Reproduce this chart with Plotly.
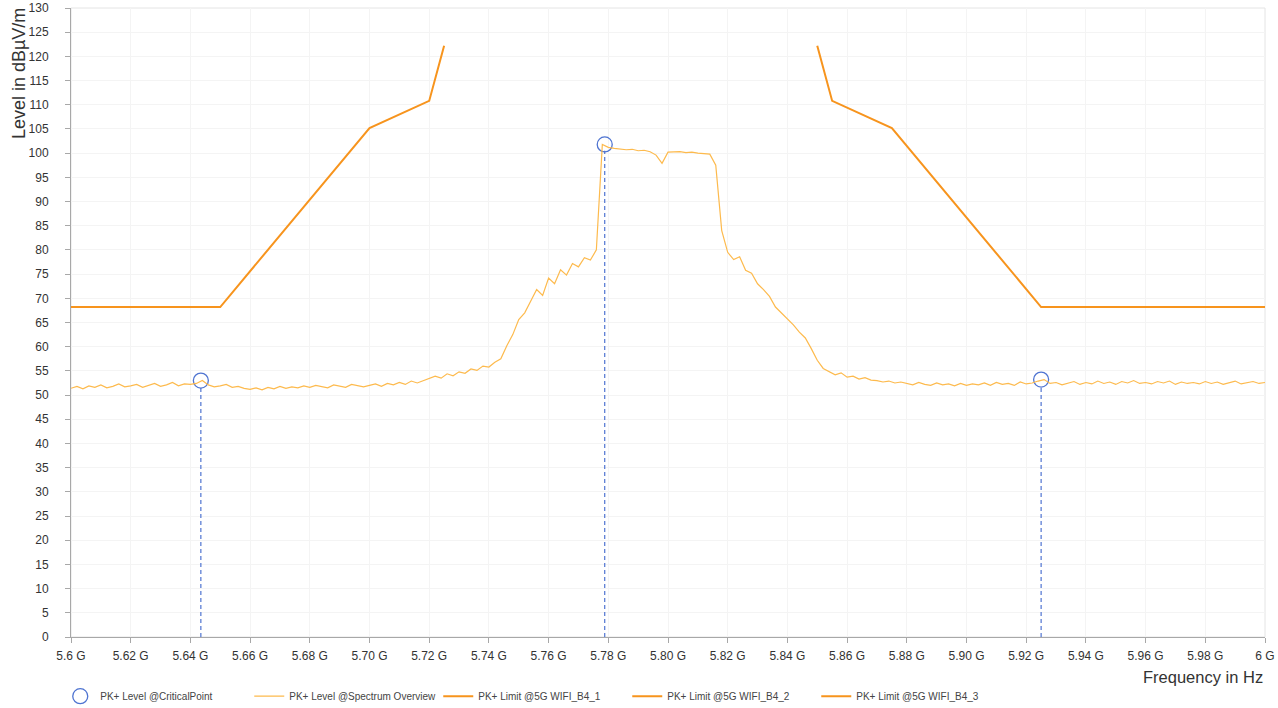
import plotly.graph_objects as go

# ---------------- data ----------------
f_start_ghz = 5.600
f_step_ghz = 0.002
spectrum_level = [
    51.4, 51.8, 51.3, 51.9, 51.6, 52.1, 51.5, 51.8, 52.3, 51.7,
    51.9, 52.2, 51.6, 52.0, 52.4, 51.8, 52.1, 52.6, 51.9, 52.3,
    52.2, 52.4, 53.0, 52.1, 51.7, 51.9, 52.2, 51.6, 51.8, 51.4,
    51.2, 51.5, 51.1, 51.6, 51.3, 51.8, 51.4, 51.7, 51.5, 51.9,
    51.6, 52.0, 51.7, 51.5, 52.1, 51.8, 51.6, 52.2, 51.9, 51.7,
    52.0, 52.3, 51.8, 52.4, 52.1, 52.6, 52.2, 52.9, 52.5, 53.0,
    53.4, 53.9, 53.5, 54.4, 54.0, 54.8, 54.5, 55.4, 55.1, 56.0,
    55.8, 56.8, 57.5, 60.2, 62.5, 65.6, 67.0, 69.4, 71.8, 70.6,
    74.2, 73.0, 75.9, 74.8, 77.2, 76.5, 78.4, 77.9, 80.0, 101.8,
    101.2, 101.0, 100.9, 100.7, 100.8, 100.5, 100.6, 100.3, 99.6, 97.9,
    100.2, 100.2, 100.3, 100.1, 100.2, 100.0, 99.9, 99.8, 97.5, 84.0,
    79.5, 78.0, 78.6, 75.8, 75.2, 73.0, 71.8, 70.4, 68.2, 67.0,
    65.9, 64.5, 63.0, 61.8, 59.6, 57.2, 55.5, 54.8, 54.2, 54.6,
    53.7, 53.9, 53.3, 53.6, 53.1, 53.0, 52.7, 52.9, 52.5, 52.7,
    52.4, 52.1, 52.6, 52.2, 52.0, 52.5, 52.1, 52.3, 51.9, 52.4,
    52.0, 52.3, 52.1, 52.5, 52.0, 52.6, 52.2, 52.4, 52.0, 52.7,
    52.3, 52.5, 52.9, 53.2, 52.4, 52.6, 52.1, 52.5, 52.8, 52.2,
    52.6, 52.3, 52.9, 52.4, 52.7, 52.2, 52.8, 52.5, 53.0, 52.4,
    52.6, 52.3, 52.8, 52.5, 52.9, 52.2, 52.7, 52.4, 52.6, 52.3,
    52.8, 52.4, 52.7, 52.2, 52.6, 52.9, 52.3, 52.5, 52.8, 52.4,
    52.6,
]
spectrum_freq = [round(f_start_ghz + f_step_ghz * i, 3) for i in range(len(spectrum_level))]

limit1_freq = [5.600, 5.650, 5.700, 5.720, 5.725]
limit1_level = [68.2, 68.2, 105.2, 110.8, 122.2]
limit2_freq = [None]
limit2_level = [None]
limit3_freq = [5.850, 5.855, 5.875, 5.925, 6.000]
limit3_level = [122.2, 110.8, 105.2, 68.2, 68.2]

critical_freq = [5.6435, 5.7788, 5.9250]
critical_level = [53.0, 101.8, 53.2]

x_tick_vals = [5.60, 5.62, 5.64, 5.66, 5.68, 5.70, 5.72, 5.74, 5.76, 5.78, 5.80,
               5.82, 5.84, 5.86, 5.88, 5.90, 5.92, 5.94, 5.96, 5.98, 6.00]
x_tick_text = ["5.6 G", "5.62 G", "5.64 G", "5.66 G", "5.68 G", "5.70 G", "5.72 G",
               "5.74 G", "5.76 G", "5.78 G", "5.80 G", "5.82 G", "5.84 G", "5.86 G",
               "5.88 G", "5.90 G", "5.92 G", "5.94 G", "5.96 G", "5.98 G", "6 G"]
y_tick_vals = list(range(0, 131, 5))

# ---------------- styles ----------------
LIMIT_COLOR = "#F7941D"
SPEC_COLOR = "#FDBA4D"
CP_COLOR = "#4F74D1"
FONT = "Liberation Sans, Arial, sans-serif"

fig = go.Figure()

fig.add_trace(go.Scatter(
    x=critical_freq, y=critical_level, mode="markers",
    name="PK+ Level @CriticalPoint",
    marker=dict(symbol="circle-open", size=15, color=CP_COLOR, line=dict(width=1.3)),
))
fig.add_trace(go.Scatter(
    x=spectrum_freq, y=spectrum_level, mode="lines",
    name="PK+ Level @Spectrum Overview",
    line=dict(color=SPEC_COLOR, width=1.2),
))
fig.add_trace(go.Scatter(
    x=limit1_freq, y=limit1_level, mode="lines",
    name="PK+ Limit @5G WIFI_B4_1",
    line=dict(color=LIMIT_COLOR, width=2),
))
fig.add_trace(go.Scatter(
    x=limit2_freq, y=limit2_level, mode="lines",
    name="PK+ Limit @5G WIFI_B4_2",
    line=dict(color=LIMIT_COLOR, width=2),
))
fig.add_trace(go.Scatter(
    x=limit3_freq, y=limit3_level, mode="lines",
    name="PK+ Limit @5G WIFI_B4_3",
    line=dict(color=LIMIT_COLOR, width=2),
))

shapes = []
for fx, ly in zip(critical_freq, critical_level):
    shapes.append(dict(type="line", xref="x", yref="y", x0=fx, x1=fx, y0=0, y1=ly - 1.3,
                       line=dict(color=CP_COLOR, width=1.2, dash="4px,3px"), layer="above"))
shapes.append(dict(type="rect", xref="paper", yref="paper", x0=0, x1=1, y0=0, y1=1,
                   line=dict(color="#E4E4E4", width=1), layer="below"))

fig.update_layout(
    width=1278, height=708,
    margin=dict(l=71, r=13, t=8, b=71, autoexpand=False),
    paper_bgcolor="white", plot_bgcolor="white",
    font=dict(family=FONT, size=12, color="#333333"),
    shapes=shapes,
    showlegend=True,
    legend=dict(orientation="h", x=-0.009, y=-0.071, xanchor="left", yanchor="top",
                font=dict(size=10, color="#444444"), entrywidth=144, entrywidthmode="pixels",
                itemwidth=30, bgcolor="rgba(0,0,0,0)"),
    annotations=[
        dict(text="Level in dBµV/m", xref="paper", yref="paper", x=-0.044, y=1.003,
             xanchor="center", yanchor="top", textangle=-90, showarrow=False,
             font=dict(size=18, color="#333333")),
        dict(text="Frequency in Hz", xref="paper", yref="paper", x=1.0, y=-0.046,
             xanchor="right", yanchor="top", showarrow=False,
             font=dict(size=16.5, color="#333333")),
    ],
)
fig.update_xaxes(
    range=[5.6, 6.0], tickvals=x_tick_vals, ticktext=x_tick_text,
    showgrid=True, gridcolor="#F4F4F4", gridwidth=1,
    showline=True, linecolor="#A8A8A8", linewidth=1,
    ticks="outside", ticklen=5, tickcolor="#A8A8A8", ticklabelstandoff=3,
    zeroline=False, tickfont=dict(size=12, color="#333333"), automargin=False,
)
fig.update_yaxes(
    range=[0, 130], tickvals=y_tick_vals,
    showgrid=True, gridcolor="#F4F4F4", gridwidth=1,
    showline=True, linecolor="#A8A8A8", linewidth=1,
    ticks="outside", ticklen=5, tickcolor="#A8A8A8", ticklabelstandoff=14,
    zeroline=False, tickfont=dict(size=12, color="#333333"), automargin=False,
)

fig.write_html("out.html")
